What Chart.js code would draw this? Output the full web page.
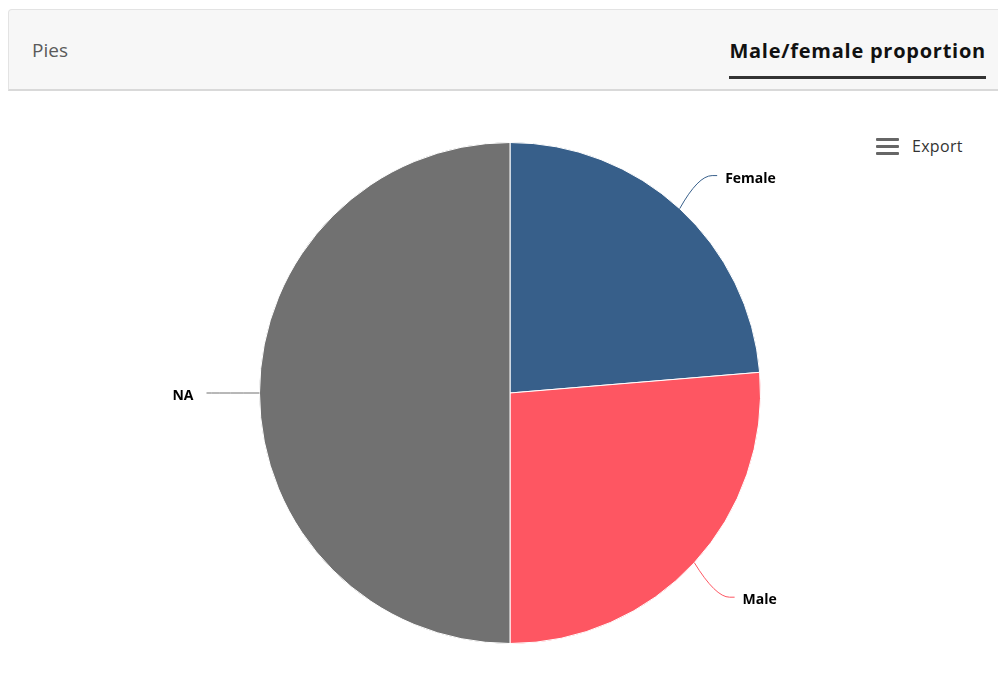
<!DOCTYPE html>
<html>
<head>
<meta charset="utf-8">
<script src="https://cdn.jsdelivr.net/npm/chart.js@4/dist/chart.umd.min.js"></script>
<style>
  html, body { margin: 0; padding: 0; background: #fff; }
  body { width: 998px; height: 696px; position: relative; overflow: hidden;
         font-family: "Open Sans", "Noto Sans", sans-serif; }
  .tabs { position: absolute; left: 8px; top: 9px; width: 1000px; height: 79px;
          background: #f7f7f7; border: 1px solid #e3e3e3; border-bottom: 2px solid #d9d9d9;
          border-radius: 4px 0 0 0; box-sizing: content-box; }
  .tab-left { position: absolute; left: 23px; top: 27px; font-size: 19px; color: #5a5a5a; }
  .tab-right { position: absolute; left: 720px; top: 27px; font-size: 20px; font-weight: 700; letter-spacing: 0.75px;
               color: #111; padding: 0 0 12px 0; border-bottom: 3px solid #333; width: 257px; text-align: right; white-space: nowrap; }
  .export { position: absolute; left: 876px; top: 135px; height: 22px; display: flex; align-items: center; }
  .export .icon { width: 23px; height: 17px; display: flex; flex-direction: column; justify-content: space-between; margin-right: 13px; }
  .export .icon span { display: block; height: 3px; background: #666; border-radius: 1px; }
  .export .txt { font-size: 16px; letter-spacing: 0.3px; color: #333; font-family: "Open Sans", sans-serif; }
  #wrap { position: absolute; left: 0; top: 92px; width: 998px; height: 604px; }
</style>
</head>
<body>
<div class="tabs">
  <div class="tab-left">Pies</div>
  <div class="tab-right">Male/female proportion</div>
</div>
<div class="export"><div class="icon"><span></span><span></span><span></span></div><div class="txt">Export</div></div>
<div id="wrap"><canvas id="pie"></canvas></div>
<script>
// Counts per gender category
const categories = ["Female", "Male", "NA"];
const counts = [9, 10, 19];
const sliceColors = ["#375f8a", "#fe5662", "#717171"];

// Draws outside labels with curved connectors, positioned from each arc's angles
const outsideLabels = {
  id: 'outsideLabels',
  afterDatasetsDraw(chart) {
    const ctx = chart.ctx;
    const meta = chart.getDatasetMeta(0);
    ctx.save();
    meta.data.forEach((arc, i) => {
      const p = arc.getProps(['x', 'y', 'startAngle', 'endAngle', 'outerRadius'], true);
      const mid = (p.startAngle + p.endAngle) / 2;
      const cos = Math.cos(mid), sin = Math.sin(mid);
      const right = cos >= 0;
      const sx = p.x + cos * p.outerRadius, sy = p.y + sin * p.outerRadius;
      const ex = p.x + cos * (p.outerRadius + 48);
      const ey = p.y + sin * (p.outerRadius + 48) + 3 * Math.abs(sin);
      const tail = 5;
      const lx = ex + (right ? tail : -tail);
      ctx.beginPath();
      ctx.moveTo(sx, sy);
      ctx.quadraticCurveTo(ex - (right ? 14 : -14), ey, ex, ey);
      ctx.lineTo(lx, ey);
      ctx.strokeStyle = sliceColors[i];
      ctx.lineWidth = 1;
      ctx.stroke();
      ctx.font = 'bold 14px "Open Sans", "Noto Sans", sans-serif';
      ctx.fillStyle = '#000';
      ctx.textBaseline = 'middle';
      ctx.textAlign = right ? 'left' : 'right';
      ctx.lineWidth = 2;
      ctx.strokeStyle = '#fff';
      ctx.lineJoin = 'round';
      const tx = lx + (right ? 8 : -13);
      const ty = ey + 3;
      ctx.strokeText(categories[i], tx, ty);
      ctx.fillText(categories[i], tx, ty);
    });
    ctx.restore();
  }
};

new Chart(document.getElementById('pie'), {
  type: 'pie',
  data: {
    labels: categories,
    datasets: [{
      data: counts,
      backgroundColor: sliceColors,
      borderColor: '#ffffff',
      borderWidth: 1,
      hoverOffset: 0
    }]
  },
  options: {
    responsive: true,
    maintainAspectRatio: false,
    animation: false,
    layout: { padding: { left: 259, right: 237, top: 50, bottom: 52 } },
    plugins: { legend: { display: false }, tooltip: { enabled: false } }
  },
  plugins: [outsideLabels]
});
</script>
</body>
</html>
